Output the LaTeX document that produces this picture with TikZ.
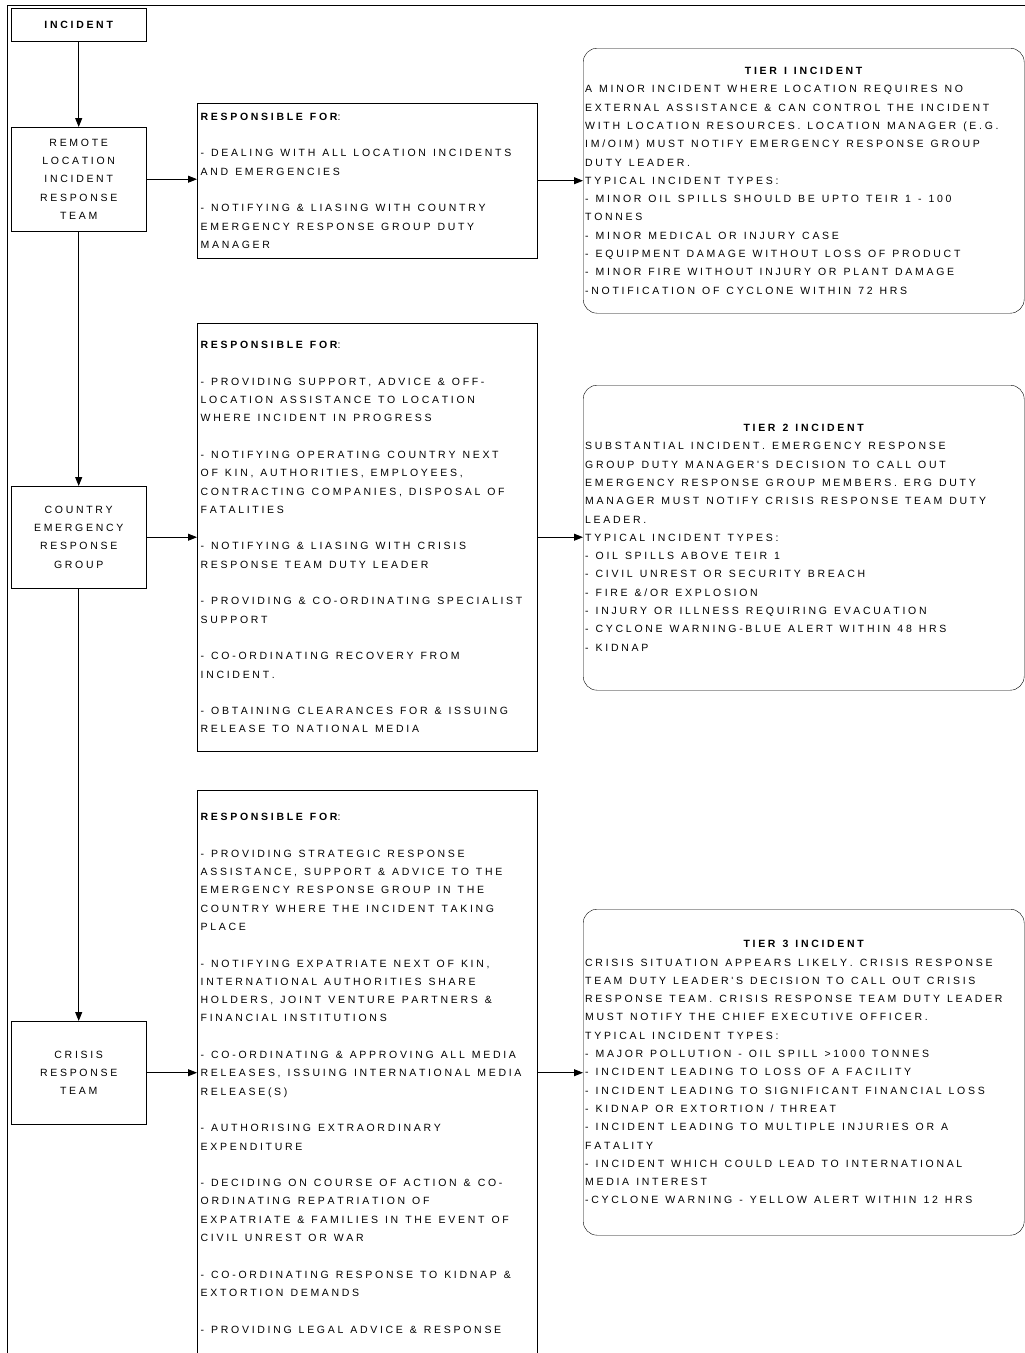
\documentclass[tikz,border=0pt]{standalone}
\usepackage{fontspec}
\newfontfamily\chartfont{Liberation Sans}
\usetikzlibrary{arrows.meta,positioning}
% wide tracking between the capitals of the chart text
\newdimen\tracksep \tracksep=2.7pt
\newdimen\wordgap \wordgap=7pt
\XeTeXinterchartokenstate=1
\newXeTeXintercharclass\trackclass
\newcount\trackchar \trackchar=`\!
\loop
  \XeTeXcharclass\trackchar=\trackclass
  \ifnum\trackchar<`\~ \advance\trackchar by 1 \repeat
\XeTeXinterchartoks\trackclass\trackclass={\kern\tracksep}
% word by word, with a fixed gap between the words
\let\gapend\relax
\long\def\gapdrop#1{}
\long\def\gapkeep#1{#1}
\long\def\gaploop#1 #2\gapend{#1%
  \if\relax\detokenize{#2}\relax\expandafter\gapdrop\else\expandafter\gapkeep\fi
  {\ifhmode\hskip\wordgap\relax\fi\gaploop#2\gapend}}
\newcommand\spaced[1]{\gaploop#1 \gapend}
\newcommand\heading[1]{\textbf{#1}}

\begin{document}
\begin{tikzpicture}[
    x=1pt, y=-1pt,
    every node/.style={font=\chartfont\fontsize{10.5}{18.3}\selectfont},
    unit/.style={rectangle, draw, minimum width=135pt, align=center,
                 inner sep=0pt, anchor=north west},
    duty/.style={rectangle, draw, minimum width=340pt, text width=333pt,
                 align=left, inner xsep=3.5pt, inner ysep=0pt, anchor=north west},
    tier/.style={rectangle, draw, rounded corners=14pt, minimum width=441pt,
                 text width=437pt, align=left, inner xsep=2pt, inner ysep=0pt,
                 anchor=north west},
    arrow/.style={-{Triangle[length=9pt,width=7pt]}, line width=0.8pt}
]
\clip (0,0) rectangle (1025,1353);
\draw[line width=0.8pt] (7,1353) -- (7,5) -- (1025,5);

% left column
\node[unit, minimum height=33pt] (incident) at (11,8) {\heading{INCIDENT}};
\node[unit, minimum height=104pt] (remote) at (11,127)
    {REMOTE\\LOCATION\\INCIDENT\\RESPONSE\\TEAM};
\node[unit, minimum height=102pt] (country) at (11,486)
    {COUNTRY\\EMERGENCY\\RESPONSE\\GROUP};
\node[unit, minimum height=103pt] (crisis) at (11,1021)
    {CRISIS\\RESPONSE\\TEAM};

% responsibilities
\node[duty, minimum height=155pt] (duty1) at (197,103) {\spaced{%
    \heading{RESPONSIBLE} \heading{FOR}:\\[18.3pt]
    - DEALING WITH ALL LOCATION INCIDENTS\\
    AND EMERGENCIES\\[18.3pt]
    - NOTIFYING \& LIASING WITH COUNTRY\\
    EMERGENCY RESPONSE GROUP DUTY\\
    MANAGER}};
\node[duty, minimum height=428pt] (duty2) at (197,323) {\spaced{%
    \heading{RESPONSIBLE} \heading{FOR}:\\[18.3pt]
    - PROVIDING SUPPORT, ADVICE \& OFF-\\
    LOCATION ASSISTANCE TO LOCATION\\
    WHERE INCIDENT IN PROGRESS\\[18.3pt]
    - NOTIFYING OPERATING COUNTRY NEXT\\
    OF KIN, AUTHORITIES, EMPLOYEES,\\
    CONTRACTING COMPANIES, DISPOSAL OF\\
    FATALITIES\\[18.3pt]
    - NOTIFYING \& LIASING WITH CRISIS\\
    RESPONSE TEAM DUTY LEADER\\[18.3pt]
    - PROVIDING \& CO-ORDINATING SPECIALIST\\
    SUPPORT\\[18.3pt]
    - CO-ORDINATING RECOVERY FROM\\
    INCIDENT.\\[18.3pt]
    - OBTAINING CLEARANCES FOR \& ISSUING\\
    RELEASE TO NATIONAL MEDIA}};
\node[duty, minimum height=566pt] (duty3) at (197,790) {\spaced{%
    \heading{RESPONSIBLE} \heading{FOR}:\\[18.3pt]
    - PROVIDING STRATEGIC RESPONSE\\
    ASSISTANCE, SUPPORT \& ADVICE TO THE\\
    EMERGENCY RESPONSE GROUP IN THE\\
    COUNTRY WHERE THE INCIDENT TAKING\\
    PLACE\\[18.3pt]
    - NOTIFYING EXPATRIATE NEXT OF KIN,\\
    INTERNATIONAL AUTHORITIES SHARE\\
    HOLDERS, JOINT VENTURE PARTNERS \&\\
    FINANCIAL INSTITUTIONS\\[18.3pt]
    - CO-ORDINATING \& APPROVING ALL MEDIA\\
    RELEASES, ISSUING INTERNATIONAL MEDIA\\
    RELEASE(S)\\[18.3pt]
    - AUTHORISING EXTRAORDINARY\\
    EXPENDITURE\\[18.3pt]
    - DECIDING ON COURSE OF ACTION \& CO-\\
    ORDINATING REPATRIATION OF\\
    EXPATRIATE \& FAMILIES IN THE EVENT OF\\
    CIVIL UNREST OR WAR\\[18.3pt]
    - CO-ORDINATING RESPONSE TO KIDNAP \&\\
    EXTORTION DEMANDS\\[18.3pt]
    - PROVIDING LEGAL ADVICE \& RESPONSE}};

% tiers
\node[tier, minimum height=265pt] (tier1) at (583,48) {\spaced{%
    {\centering\spaced{\heading{TIER} \heading{I} \heading{INCIDENT}}\par}%
    A MINOR INCIDENT WHERE LOCATION REQUIRES NO\\
    EXTERNAL ASSISTANCE \& CAN CONTROL THE INCIDENT\\
    WITH LOCATION RESOURCES. LOCATION MANAGER (E.G.\\
    IM/OIM) MUST NOTIFY EMERGENCY RESPONSE GROUP\\
    DUTY LEADER.\\
    TYPICAL INCIDENT TYPES:\\
    - MINOR OIL SPILLS SHOULD BE UPTO TEIR 1 - 100\\
    TONNES\\
    - MINOR MEDICAL OR INJURY CASE\\
    - EQUIPMENT DAMAGE WITHOUT LOSS OF PRODUCT\\
    - MINOR FIRE WITHOUT INJURY OR PLANT DAMAGE\\
    -NOTIFICATION OF CYCLONE WITHIN 72 HRS}};
\node[tier, minimum height=305pt] (tier2) at (583,385) {\spaced{%
    {\centering\spaced{\heading{TIER} \heading{2} \heading{INCIDENT}}\par}%
    SUBSTANTIAL INCIDENT. EMERGENCY RESPONSE\\
    GROUP DUTY MANAGER'S DECISION TO CALL OUT\\
    EMERGENCY RESPONSE GROUP MEMBERS. ERG DUTY\\
    MANAGER MUST NOTIFY CRISIS RESPONSE TEAM DUTY\\
    LEADER.\\
    TYPICAL INCIDENT TYPES:\\
    - OIL SPILLS ABOVE TEIR 1\\
    - CIVIL UNREST OR SECURITY BREACH\\
    - FIRE \&/OR EXPLOSION\\
    - INJURY OR ILLNESS REQUIRING EVACUATION\\
    - CYCLONE WARNING-BLUE ALERT WITHIN 48 HRS\\
    - KIDNAP}};
\node[tier, minimum height=326pt] (tier3) at (583,909) {\spaced{%
    {\centering\spaced{\heading{TIER} \heading{3} \heading{INCIDENT}}\par}%
    CRISIS SITUATION APPEARS LIKELY. CRISIS RESPONSE\\
    TEAM DUTY LEADER'S DECISION TO CALL OUT CRISIS\\
    RESPONSE TEAM. CRISIS RESPONSE TEAM DUTY LEADER\\
    MUST NOTIFY THE CHIEF EXECUTIVE OFFICER.\\
    TYPICAL INCIDENT TYPES:\\
    - MAJOR POLLUTION - OIL SPILL >1000 TONNES\\
    - INCIDENT LEADING TO LOSS OF A FACILITY\\
    - INCIDENT LEADING TO SIGNIFICANT FINANCIAL LOSS\\
    - KIDNAP OR EXTORTION / THREAT\\
    - INCIDENT LEADING TO MULTIPLE INJURIES OR A\\
    FATALITY\\
    - INCIDENT WHICH COULD LEAD TO INTERNATIONAL\\
    MEDIA INTEREST\\
    -CYCLONE WARNING - YELLOW ALERT WITHIN 12 HRS}};

% connectors
\draw[arrow] (incident) -- (remote);
\draw[arrow] (remote) -- (country);
\draw[arrow] (country) -- (crisis);
\draw[arrow] (remote.east) -- (remote.east -| duty1.west);
\draw[arrow] (country.east) -- (country.east -| duty2.west);
\draw[arrow] (crisis.east) -- (crisis.east -| duty3.west);
\draw[arrow] (duty1.east) -- (duty1.east -| tier1.west);
\draw[arrow] (duty2.east) -- (duty2.east -| tier2.west);
\draw[arrow] (crisis.east -| duty3.east) -- (crisis.east -| tier3.west);
\end{tikzpicture}
\end{document}
